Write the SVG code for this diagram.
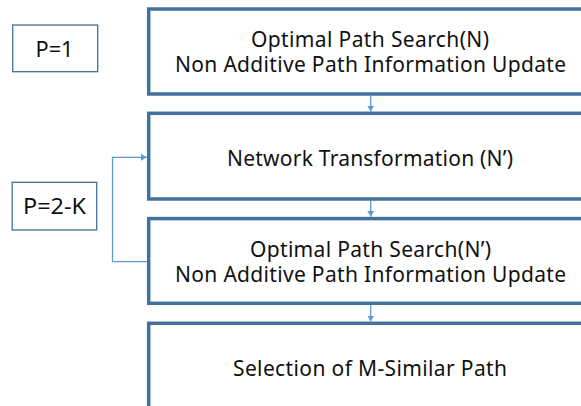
<svg xmlns="http://www.w3.org/2000/svg" width="581" height="406" viewBox="0 0 581 406">
<defs>
<style>
.main{fill:#fff;stroke:#41719c;stroke-width:3.5}
.small{fill:#fff;stroke:#41719c;stroke-width:1.3}
.t{font-family:"Noto Sans","Liberation Sans",sans-serif;font-size:21px;fill:#111;text-anchor:middle}
.c{fill:none;stroke:#5b9bd5;stroke-width:1.3}
</style>
<marker id="ah" markerWidth="7" markerHeight="7" refX="6" refY="3.5" orient="auto" markerUnits="userSpaceOnUse">
<path d="M0,0 L6,3.5 L0,7 Z" fill="#5b9bd5"/>
</marker>
</defs>
<rect width="581" height="406" fill="#fff"/>
<g id="p1">
<rect class="small" x="12.7" y="25" width="85" height="46.7"/>
<text class="t" x="54.5" y="57" textLength="38" lengthAdjust="spacingAndGlyphs">P=1</text>
</g>
<g id="p2k">
<rect class="small" x="12.2" y="182.3" width="84.5" height="47.7"/>
<text class="t" x="54.5" y="214.3" textLength="63" lengthAdjust="spacingAndGlyphs">P=2-K</text>
</g>
<g id="box1">
<rect class="main" x="148.7" y="9" width="445" height="85"/>
<text class="t" x="370" y="47" textLength="238" lengthAdjust="spacing">Optimal Path Search(N)</text>
<text class="t" x="370.5" y="72" textLength="391" lengthAdjust="spacing">Non Additive Path Information Update</text>
</g>
<g id="box2">
<rect class="main" x="148.7" y="113.3" width="445" height="85.7"/>
<text class="t" x="370" y="166" textLength="286" lengthAdjust="spacing">Network Transformation (N’)</text>
</g>
<g id="box3">
<rect class="main" x="148.7" y="218.6" width="445" height="84.7"/>
<text class="t" x="370.5" y="256.7" textLength="241" lengthAdjust="spacing">Optimal Path Search(N’)</text>
<text class="t" x="370.5" y="281.7" textLength="391" lengthAdjust="spacing">Non Additive Path Information Update</text>
</g>
<g id="box4">
<rect class="main" x="148.7" y="323.3" width="445" height="100"/>
<text class="t" x="370" y="376" textLength="274" lengthAdjust="spacing">Selection of M-Similar Path</text>
</g>
<g id="connectors">
<line class="c" x1="370.7" y1="96" x2="370.7" y2="111.7" marker-end="url(#ah)"/>
<line class="c" x1="370.7" y1="201" x2="370.7" y2="216.8" marker-end="url(#ah)"/>
<line class="c" x1="370.7" y1="305.2" x2="370.7" y2="321.5" marker-end="url(#ah)"/>
<path class="c" d="M147,261.7 H112.5 V157.3 H146.8" marker-end="url(#ah)"/>
</g>
</svg>
